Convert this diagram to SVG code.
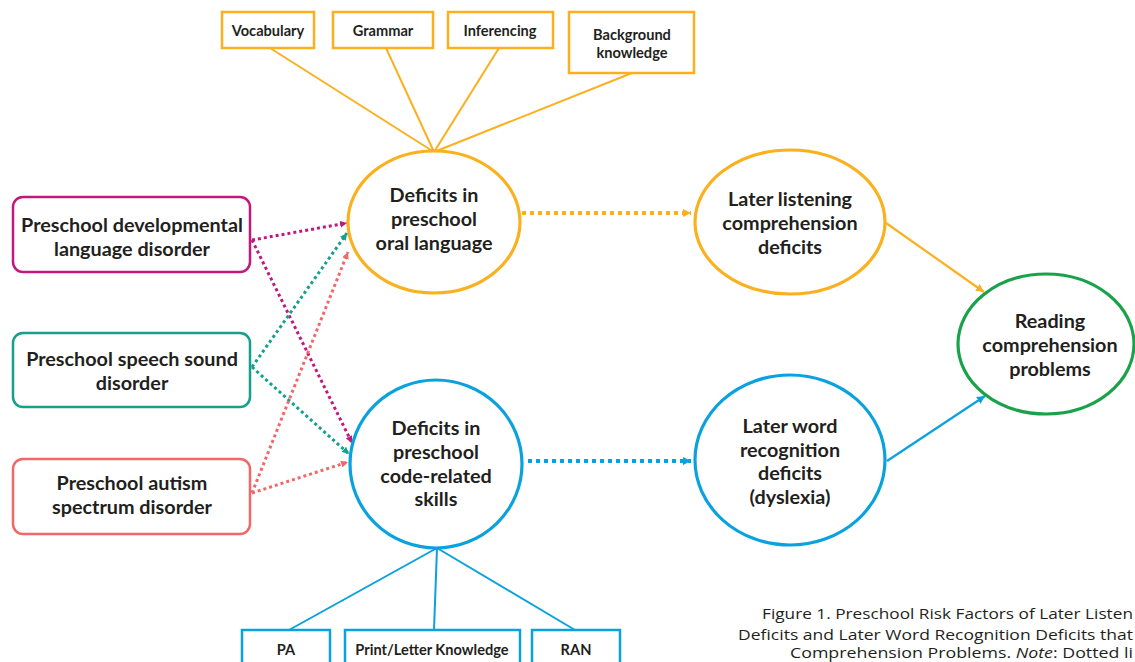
<svg xmlns="http://www.w3.org/2000/svg" width="1135" height="662" viewBox="0 0 1135 662">
<style>
.t{font-family:Lato,"Open Sans","Liberation Sans",sans-serif;font-weight:bold;fill:#231F20;text-anchor:middle}
.n{font-size:19.8px}
.s{font-size:14.6px}
.cap{font-family:"Open Sans","Liberation Sans",sans-serif;font-size:15px;fill:#231F20}
.e{fill:#fff;stroke-width:3.2}
.b{fill:#fff;stroke-width:2.5}
.dot{fill:none;stroke-width:3;stroke-dasharray:3 3}
</style>
<defs>
<marker id="am" viewBox="0 0 10 10" refX="10" refY="5" markerWidth="7" markerHeight="7" markerUnits="userSpaceOnUse" orient="auto"><path d="M0,0L10,5L0,10z" fill="#C2187E"/></marker>
<marker id="at" viewBox="0 0 10 10" refX="10" refY="5" markerWidth="7" markerHeight="7" markerUnits="userSpaceOnUse" orient="auto"><path d="M0,0L10,5L0,10z" fill="#14A08C"/></marker>
<marker id="as" viewBox="0 0 10 10" refX="10" refY="5" markerWidth="7" markerHeight="7" markerUnits="userSpaceOnUse" orient="auto"><path d="M0,0L10,5L0,10z" fill="#F0686A"/></marker>
<marker id="ao" viewBox="0 0 10 10" refX="10" refY="5" markerWidth="8" markerHeight="8" markerUnits="userSpaceOnUse" orient="auto"><path d="M0,0L10,5L0,10z" fill="#FBB01E"/></marker>
<marker id="ab" viewBox="0 0 10 10" refX="10" refY="5" markerWidth="8" markerHeight="8" markerUnits="userSpaceOnUse" orient="auto"><path d="M0,0L10,5L0,10z" fill="#0AA2DE"/></marker>
</defs>
<rect width="1135" height="662" fill="#fff"/>
<g id="connectors">
<line x1="270" y1="48" x2="434" y2="152" stroke="#FBB01E" stroke-width="2"/>
<line x1="386" y1="48" x2="434" y2="152" stroke="#FBB01E" stroke-width="2"/>
<line x1="499" y1="48" x2="434" y2="152" stroke="#FBB01E" stroke-width="2"/>
<line x1="632" y1="73" x2="434" y2="152" stroke="#FBB01E" stroke-width="2"/>
<line x1="437" y1="548" x2="289" y2="630" stroke="#0AA2DE" stroke-width="2"/>
<line x1="437" y1="548" x2="434" y2="630" stroke="#0AA2DE" stroke-width="2"/>
<line x1="437" y1="548" x2="575" y2="630" stroke="#0AA2DE" stroke-width="2"/>
<line x1="252" y1="240" x2="347" y2="223" class="dot" stroke="#C2187E" marker-end="url(#am)"/>
<line x1="252" y1="240" x2="352" y2="443" class="dot" stroke="#C2187E" marker-end="url(#am)"/>
<line x1="252" y1="367" x2="347" y2="233" class="dot" stroke="#14A08C" marker-end="url(#at)"/>
<line x1="252" y1="367" x2="349" y2="454" class="dot" stroke="#14A08C" marker-end="url(#at)"/>
<line x1="252" y1="493" x2="348" y2="252" class="dot" stroke="#F0686A" marker-end="url(#as)"/>
<line x1="252" y1="493" x2="348" y2="462" class="dot" stroke="#F0686A" marker-end="url(#as)"/>
<line x1="522" y1="213" x2="691" y2="213" stroke="#FBB01E" stroke-width="4" stroke-dasharray="4 4" marker-end="url(#ao)"/>
<line x1="528" y1="461" x2="691" y2="461" stroke="#0AA2DE" stroke-width="4" stroke-dasharray="4 4" marker-end="url(#ab)"/>
<line x1="886" y1="223" x2="984" y2="292" stroke="#FBB01E" stroke-width="2.2" marker-end="url(#ao)"/>
<line x1="887" y1="461" x2="985" y2="396" stroke="#0AA2DE" stroke-width="2.2" marker-end="url(#ab)"/>
</g>
<g id="vocab"><rect x="222" y="12" width="92" height="36" class="b" stroke="#FBB01E"/><text x="268" y="36" class="t s">Vocabulary</text></g>
<g id="grammar"><rect x="333" y="12" width="100" height="36" class="b" stroke="#FBB01E"/><text x="383" y="36" class="t s">Grammar</text></g>
<g id="inferencing"><rect x="448" y="12" width="105" height="36" class="b" stroke="#FBB01E"/><text x="500" y="36" class="t s">Inferencing</text></g>
<g id="background"><rect x="569" y="12" width="125" height="61" class="b" stroke="#FBB01E"/><text x="632" y="40" class="t s">Background</text><text x="632" y="58" class="t s">knowledge</text></g>
<g id="dld"><rect x="13" y="197" width="237" height="75" rx="10" class="b" stroke="#C2187E"/><text x="132" y="232" class="t n">Preschool developmental</text><text x="132" y="256" class="t n">language disorder</text></g>
<g id="ssd"><rect x="13" y="333" width="237" height="74" rx="10" class="b" stroke="#14A08C"/><text x="132" y="366" class="t n">Preschool speech sound</text><text x="132" y="390" class="t n">disorder</text></g>
<g id="asd"><rect x="13" y="459" width="237" height="75" rx="10" class="b" stroke="#F0686A"/><text x="132" y="490" class="t n">Preschool autism</text><text x="132" y="514" class="t n">spectrum disorder</text></g>
<g id="oral"><ellipse cx="434" cy="222" rx="86" ry="71" class="e" stroke="#FBB01E"/><text x="434" y="202" class="t n">Deficits in</text><text x="434" y="226" class="t n">preschool</text><text x="434" y="250" class="t n">oral language</text></g>
<g id="code"><ellipse cx="436" cy="464" rx="86" ry="84" class="e" stroke="#0AA2DE"/><text x="436" y="435" class="t n">Deficits in</text><text x="436" y="459" class="t n">preschool</text><text x="436" y="483" class="t n">code-related</text><text x="436" y="506" class="t n">skills</text></g>
<g id="listening"><ellipse cx="790" cy="222" rx="95" ry="72" class="e" stroke="#FBB01E"/><text x="790" y="206" class="t n">Later listening</text><text x="790" y="230" class="t n">comprehension</text><text x="790" y="254" class="t n">deficits</text></g>
<g id="word"><ellipse cx="790" cy="460" rx="95" ry="85" class="e" stroke="#0AA2DE"/><text x="790" y="433" class="t n">Later word</text><text x="790" y="457" class="t n">recognition</text><text x="790" y="480" class="t n">deficits</text><text x="790" y="504" class="t n">(dyslexia)</text></g>
<g id="reading"><ellipse cx="1046" cy="344" rx="88" ry="70" class="e" stroke="#1AA24A"/><text x="1050" y="328" class="t n">Reading</text><text x="1050" y="352" class="t n">comprehension</text><text x="1050" y="376" class="t n">problems</text></g>
<g id="pa"><rect x="242" y="630" width="88" height="40" class="b" stroke="#0AA2DE"/><text x="286" y="655" class="t s">PA</text></g>
<g id="print"><rect x="345" y="630" width="175" height="40" class="b" stroke="#0AA2DE"/><text x="432" y="655" class="t s">Print/Letter Knowledge</text></g>
<g id="ran"><rect x="532" y="630" width="88" height="40" class="b" stroke="#0AA2DE"/><text x="576" y="655" class="t s">RAN</text></g>
<g id="caption">
<text x="762" y="619" class="cap" textLength="371" lengthAdjust="spacingAndGlyphs">Figure 1. Preschool Risk Factors of Later Listen</text>
<text x="738" y="640" class="cap" textLength="395" lengthAdjust="spacingAndGlyphs">Deficits and Later Word Recognition Deficits that</text>
<text x="790" y="658" class="cap" textLength="343" lengthAdjust="spacingAndGlyphs">Comprehension Problems. <tspan font-style="italic">Note</tspan>: Dotted li</text>
</g>
</svg>
